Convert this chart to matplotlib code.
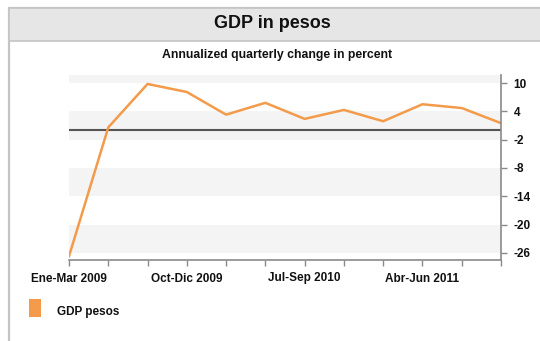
import matplotlib
matplotlib.use("Agg")
import matplotlib.pyplot as plt
from matplotlib.patches import Rectangle

# quarterly GDP change, Q1 2009 .. Q4 2011
quarters = ["Ene-Mar 2009", "Abr-Jun 2009", "Jul-Sep 2009", "Oct-Dic 2009",
            "Ene-Mar 2010", "Abr-Jun 2010", "Jul-Sep 2010", "Oct-Dic 2010",
            "Ene-Mar 2011", "Abr-Jun 2011", "Jul-Sep 2011", "Oct-Dic 2011"]
gdp_pesos = [-26.7, 0.6, 9.8, 8.1, 3.3, 5.8, 2.4, 4.3, 1.9, 5.5, 4.7, 1.5]
y_ticks = [10, 4, -2, -8, -14, -20, -26]
band_edges = [(4, -2), (-8, -14), (-20, -26), (12, 10)]

plt.rcParams['font.family'] = ['Liberation Sans', 'DejaVu Sans']
plt.rcParams['font.weight'] = 'bold'

orange = '#f39b4a'
grey = '#8a8a8a'

fig = plt.figure(figsize=(5.4, 3.41), dpi=100)

# outer frame and title bar (behind the axes)
fig.patches.append(Rectangle((9 / 540, -0.05), 1.0, 1.05 - 8 / 341,
                             transform=fig.transFigure, facecolor='white',
                             edgecolor='#c4c4c4', linewidth=1.6, zorder=-10))
fig.patches.append(Rectangle((9 / 540, 1 - 41 / 341), 1.0, 33 / 341,
                             transform=fig.transFigure, facecolor='#e6e6e6',
                             edgecolor='#c4c4c4', linewidth=1.2, zorder=-9))
fig.text(272 / 540, 1 - 24 / 341, "GDP in pesos", ha='center', va='center',
         fontsize=13, fontweight='bold', color='#111111')
fig.text(277 / 540, 1 - 55 / 341, "Annualized quarterly change in percent",
         ha='center', va='center', fontsize=8.8, fontweight='bold', color='#111111')

ax = fig.add_axes([69 / 540, 81 / 341, 432 / 540, 185 / 341])
x = list(range(len(quarters)))

for top, bottom in band_edges:
    ax.axhspan(bottom, top, color='#f4f4f4', zorder=0, linewidth=0)

ax.axhline(0, color='#555555', linewidth=1.5, zorder=1)
ax.plot(x, gdp_pesos, color=orange, linewidth=1.8, zorder=2)

ax.set_xlim(0, len(quarters) - 1)
ax.set_ylim(-27.5, 11.7)
ax.set_xticks(x)
ax.set_xticklabels([q if i % 3 == 0 else "" for i, q in enumerate(quarters)])
ax.set_yticks(y_ticks)
ax.set_yticklabels([str(v) for v in y_ticks])
ax.yaxis.tick_right()

for side in ['left', 'top']:
    ax.spines[side].set_visible(False)
for side in ['right', 'bottom']:
    ax.spines[side].set_color(grey)
    ax.spines[side].set_linewidth(1.2)

ax.tick_params(axis='both', colors=grey, length=4, width=1.0,
               labelcolor='#111111', labelsize=8.5)
ax.tick_params(axis='x', pad=5)
ax.tick_params(axis='y', pad=5)
ax.set_facecolor('none')

# legend
fig.patches.append(Rectangle((29 / 540, 1 - 317 / 341), 12 / 540, 18 / 341,
                             transform=fig.transFigure, facecolor=orange,
                             edgecolor='none'))
fig.text(57 / 540, 1 - 312 / 341, "GDP pesos", ha='left', va='center',
         fontsize=8.5, fontweight='bold', color='#111111')

fig.savefig("out.png", dpi=100)
